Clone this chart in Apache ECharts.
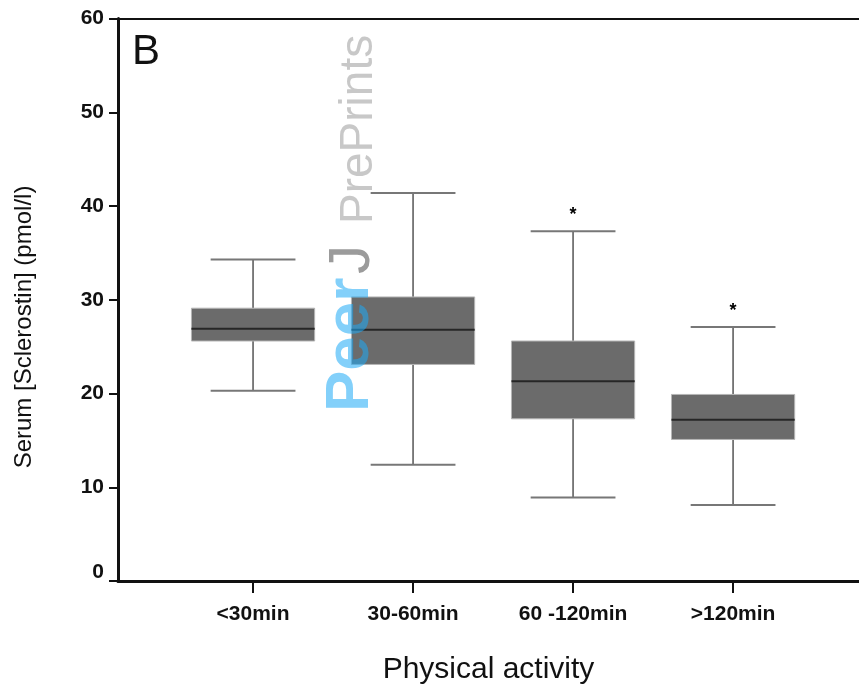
<!DOCTYPE html>
<html>
<head>
<meta charset="utf-8">
<script src="https://cdn.jsdelivr.net/npm/echarts@6/dist/echarts.min.js"></script>
<style>
html,body{margin:0;padding:0;background:#fff;}
#chart{width:859px;height:690px;}
</style>
</head>
<body>
<div id="chart"></div>
<script>
// ---- data ----
var categories = ['<30min', '30-60min', '60 -120min', '>120min'];
var whiskerLow = [20.3, 12.4, 8.9, 8.1];
var q1Values   = [25.6, 23.1, 17.3, 15.1];
var medians    = [26.9, 26.8, 21.3, 17.2];
var q3Values   = [29.1, 30.3, 25.6, 19.9];
var whiskerHigh= [34.3, 41.4, 37.3, 27.1];
var significance = ['', '', '*', '*'];
var yTicks = [0, 10, 20, 30, 40, 50, 60];
var yTitle = 'Serum [Sclerostin] (pmol/l)';
var xTitle = 'Physical activity';
var panelLabel = 'B';

var FONT = 'Liberation Sans, Arial, Helvetica, sans-serif';

var rows = categories.map(function (c, i) {
  return [i + 1, whiskerLow[i], q1Values[i], medians[i], q3Values[i], whiskerHigh[i]];
});
var catPositions = categories.map(function (c, i) { return i + 1; });

var chart = echarts.init(document.getElementById('chart'), null, {renderer: 'canvas'});

var option = {
  animation: false,
  backgroundColor: '#ffffff',
  grid: {left: 118, right: 0, top: 18.5, bottom: 105.5, containLabel: false},
  xAxis: [{
    type: 'value',
    min: 0.156,
    max: 4.787,
    axisLine: {show: true, onZero: false, lineStyle: {color: '#111', width: 3}},
    axisTick: {show: true, customValues: catPositions, length: 12, lineStyle: {color: '#111', width: 2}},
    axisLabel: {
      show: true, customValues: catPositions, margin: 23,
      fontFamily: FONT, fontSize: 21, fontWeight: 'bold', color: '#111',
      formatter: function (v) { return categories[Math.round(v) - 1] || ''; }
    },
    splitLine: {show: false},
    name: xTitle,
    nameLocation: 'middle',
    nameGap: 74,
    nameTextStyle: {fontFamily: FONT, fontSize: 30, color: '#111'}
  }, {
    type: 'value',
    position: 'top',
    min: 0.156,
    max: 4.787,
    axisLine: {show: true, onZero: false, lineStyle: {color: '#111', width: 2}},
    axisTick: {show: false},
    axisLabel: {show: false},
    splitLine: {show: false}
  }],
  yAxis: {
    type: 'value',
    min: 0, max: 60, interval: 10,
    axisLine: {show: true, onZero: false, lineStyle: {color: '#111', width: 3}},
    axisTick: {show: true, length: 9, lineStyle: {color: '#111', width: 2}},
    axisLabel: {
      margin: 14, fontFamily: FONT, fontSize: 21, fontWeight: 'bold', color: '#111',
      formatter: function (v) {
        if (yTicks.indexOf(v) < 0) return '';
        return v === 0 ? '{z|0}' : String(v);
      },
      rich: {z: {fontFamily: FONT, fontSize: 21, fontWeight: 'bold', color: '#111', padding: [0, 0, 18, 0]}}
    },
    splitLine: {show: false}
  },
  series: [{
    type: 'custom',
    xAxisIndex: 0,
    yAxisIndex: 0,
    data: rows,
    encode: {x: 0, y: [1, 2, 3, 4, 5]},
    renderItem: function (params, api) {
      var x = api.value(0);
      var lo = api.coord([x, api.value(1)]);
      var q1 = api.coord([x, api.value(2)]);
      var md = api.coord([x, api.value(3)]);
      var q3 = api.coord([x, api.value(4)]);
      var hi = api.coord([x, api.value(5)]);
      var band = api.size([1, 0])[0];
      var bw = band * 0.77, cw = band * 0.53;
      var cx = lo[0];
      var vline = {stroke: '#555', lineWidth: 1.5};
      var cap = {stroke: '#777', lineWidth: 2};
      var children = [
        {type: 'line', shape: {x1: cx, y1: hi[1], x2: cx, y2: q3[1]}, style: vline},
        {type: 'line', shape: {x1: cx, y1: q1[1], x2: cx, y2: lo[1]}, style: vline},
        {type: 'line', shape: {x1: cx - cw / 2, y1: hi[1], x2: cx + cw / 2, y2: hi[1]}, style: cap},
        {type: 'line', shape: {x1: cx - cw / 2, y1: lo[1], x2: cx + cw / 2, y2: lo[1]}, style: cap},
        {type: 'rect', shape: {x: cx - bw / 2, y: q3[1], width: bw, height: q1[1] - q3[1]},
          style: {fill: '#6b6b6b', stroke: '#b5b5b5', lineWidth: 1}},
        {type: 'line', shape: {x1: cx - bw / 2, y1: md[1], x2: cx + bw / 2, y2: md[1]},
          style: {stroke: '#262626', lineWidth: 2}}
      ];
      var s = significance[params.dataIndex];
      if (s) {
        children.push({type: 'text', x: cx, y: hi[1] - 16,
          style: {text: s, fill: '#000', font: 'bold 18px ' + FONT, textAlign: 'center', textVerticalAlign: 'middle'}});
      }
      return {type: 'group', children: children};
    }
  }],
  graphic: [
    {type: 'text', left: 132, top: 31, z: 10,
      style: {text: panelLabel, fill: '#111', font: '42px ' + FONT}},
    {type: 'text', x: 24, y: 327, rotation: Math.PI / 2, z: 10,
      style: {text: yTitle, fill: '#111', font: '24px ' + FONT, textAlign: 'center', textVerticalAlign: 'middle'}},
    {type: 'text', x: 382, y: 412, rotation: Math.PI / 2, z: 20,
      style: {text: 'Peer', fill: 'rgba(30,170,245,0.55)', font: 'bold 62px ' + FONT, textAlign: 'left', textVerticalAlign: 'bottom'}},
    {type: 'text', x: 382, y: 274, rotation: Math.PI / 2, z: 20,
      style: {text: 'J', fill: 'rgba(130,130,130,0.8)', font: '58px ' + FONT, textAlign: 'left', textVerticalAlign: 'bottom'}},
    {type: 'text', x: 382, y: 224, rotation: Math.PI / 2, z: 20,
      style: {text: 'PrePrints', fill: 'rgba(190,190,190,0.85)', font: '46px ' + FONT, textAlign: 'left', textVerticalAlign: 'bottom'}}
  ]
};
chart.setOption(option);
</script>
</body>
</html>
